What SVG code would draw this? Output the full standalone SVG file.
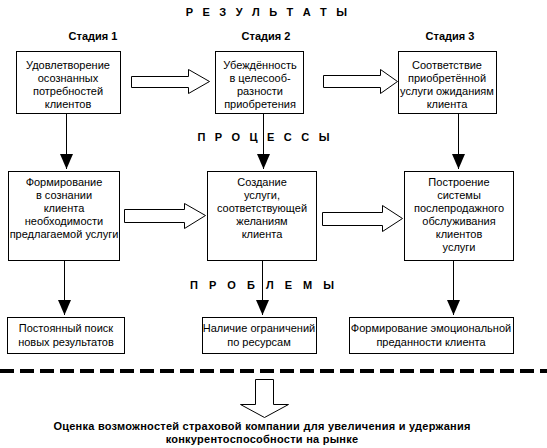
<svg xmlns="http://www.w3.org/2000/svg" width="547" height="448" viewBox="0 0 547 448">
<style>
.bg{fill:#fff}
.box{fill:#fff;stroke:#000;stroke-width:1}
.t{font-family:"Liberation Sans",Arial,sans-serif;font-size:11px;fill:#000;text-anchor:middle}
.h{font-family:"Liberation Sans",Arial,sans-serif;font-size:11px;font-weight:bold;fill:#000;text-anchor:middle}
.sp{letter-spacing:4px}
.sp3{letter-spacing:3.2px}
.wide{letter-spacing:0.25px}
.ln{stroke:#000;stroke-width:1;fill:none}
.ha{fill:#fff;stroke:#000;stroke-width:1}
</style>
<defs>
<marker id="ah" viewBox="0 0 15 13" refX="15" refY="6.5" markerWidth="15" markerHeight="13" markerUnits="userSpaceOnUse" orient="auto">
<path d="M0,0 L15,6.5 L0,13 z" fill="#000"/>
</marker>
</defs>
<rect class="bg" x="0" y="0" width="547" height="448"/>

<g id="labels">
<text class="h sp3" x="268" y="16">Р Е З У Л Ь Т А Т Ы</text>
<text class="h" x="93" y="40">Стадия 1</text>
<text class="h" x="266" y="40">Стадия 2</text>
<text class="h" x="450" y="40">Стадия 3</text>
</g>

<g id="connectors">
<line class="ln" x1="66.5" y1="113" x2="66.5" y2="169" marker-end="url(#ah)"/>
<line class="ln" x1="263.5" y1="113" x2="263.5" y2="169" marker-end="url(#ah)"/>
<line class="ln" x1="458.5" y1="113" x2="458.5" y2="169" marker-end="url(#ah)"/>
<line class="ln" x1="64.5" y1="260" x2="64.5" y2="315" marker-end="url(#ah)"/>
<line class="ln" x1="262.5" y1="260" x2="262.5" y2="315" marker-end="url(#ah)"/>
<line class="ln" x1="453.5" y1="260" x2="453.5" y2="315" marker-end="url(#ah)"/>
<polygon class="ha" points="131.5,76.5 188.5,76.5 188.5,69.5 209.5,81.5 188.5,93.5 188.5,87.5 131.5,87.5"/>
<polygon class="ha" points="323.5,75.5 380.5,75.5 380.5,69.5 397.5,81.5 380.5,93.5 380.5,87.5 323.5,87.5"/>
<polygon class="ha" points="124.5,209.5 184.5,209.5 184.5,203.5 205.5,215.5 184.5,228.5 184.5,222.5 124.5,222.5"/>
<polygon class="ha" points="322.5,212.5 382.5,212.5 382.5,205.5 402.5,218.5 382.5,231.5 382.5,225.5 322.5,225.5"/>
<line x1="0" y1="371" x2="547" y2="371" stroke="#000" stroke-width="4" stroke-dasharray="14,6"/>
<polygon class="ha" points="255.5,379.5 273.5,379.5 273.5,404.5 288.5,404.5 264.5,417.5 240.5,404.5 255.5,404.5"/>
</g>

<g id="section-labels">
<text class="h sp3" x="265" y="141">П Р О Ц Е С С Ы</text>
<text class="h sp" x="264" y="289">П Р О Б Л Е М Ы</text>
</g>

<g id="r1">
<rect class="box" x="16.5" y="51.5" width="104" height="62"/>
<text class="t" x="68" y="69">Удовлетворение</text>
<text class="t" x="68" y="82">осознанных</text>
<text class="t" x="68" y="95">потребностей</text>
<text class="t" x="68" y="108">клиентов</text>
</g>
<g id="r2">
<rect class="box" x="215.5" y="51.5" width="88" height="62"/>
<text class="t" x="260" y="69">Убеждённость</text>
<text class="t" x="260" y="82">в целесооб-</text>
<text class="t" x="260" y="95">разности</text>
<text class="t" x="260" y="108">приобретения</text>
</g>
<g id="r3">
<rect class="box" x="398.5" y="51.5" width="98" height="62"/>
<text class="t" x="447" y="69">Соответствие</text>
<text class="t" x="447" y="82">приобретённой</text>
<text class="t" x="447" y="95">услуги ожиданиям</text>
<text class="t" x="447" y="108">клиента</text>
</g>

<g id="p1">
<rect class="box" x="8.5" y="171.5" width="111" height="89"/>
<text class="t" x="64" y="186">Формирование</text>
<text class="t" x="64" y="199">в сознании</text>
<text class="t" x="64" y="212">клиента</text>
<text class="t" x="64" y="225">необходимости</text>
<text class="t" x="64" y="238">предлагаемой услуги</text>
</g>
<g id="p2">
<rect class="box" x="207.5" y="171.5" width="109" height="89"/>
<text class="t" x="262" y="186">Создание</text>
<text class="t" x="262" y="199">услуги,</text>
<text class="t" x="262" y="212">соответствующей</text>
<text class="t" x="262" y="225">желаниям</text>
<text class="t" x="262" y="238">клиента</text>
</g>
<g id="p3">
<rect class="box" x="404.5" y="171.5" width="109" height="89"/>
<text class="t" x="459" y="186">Построение</text>
<text class="t" x="459" y="199">системы</text>
<text class="t" x="459" y="212">послепродажного</text>
<text class="t" x="459" y="225">обслуживания</text>
<text class="t" x="459" y="238">клиентов</text>
<text class="t" x="459" y="251">услуги</text>
</g>

<g id="b1">
<rect class="box" x="7.5" y="317.5" width="117" height="36"/>
<text class="t" x="66" y="332">Постоянный поиск</text>
<text class="t" x="66" y="346">новых результатов</text>
</g>
<g id="b2">
<rect class="box" x="202.5" y="317.5" width="114" height="36"/>
<text class="t" x="259" y="332">Наличие ограничений</text>
<text class="t" x="259" y="346">по ресурсам</text>
</g>
<g id="b3">
<rect class="box" x="349.5" y="317.5" width="164" height="36"/>
<text class="t" x="431" y="332">Формирование эмоциональной</text>
<text class="t" x="431" y="346">преданности клиента</text>
</g>

<g id="result">
<text class="h wide" x="262" y="430">Оценка возможностей страховой компании для увеличения и удержания</text>
<text class="h wide" x="262" y="443">конкурентоспособности на рынке</text>
</g>
</svg>
